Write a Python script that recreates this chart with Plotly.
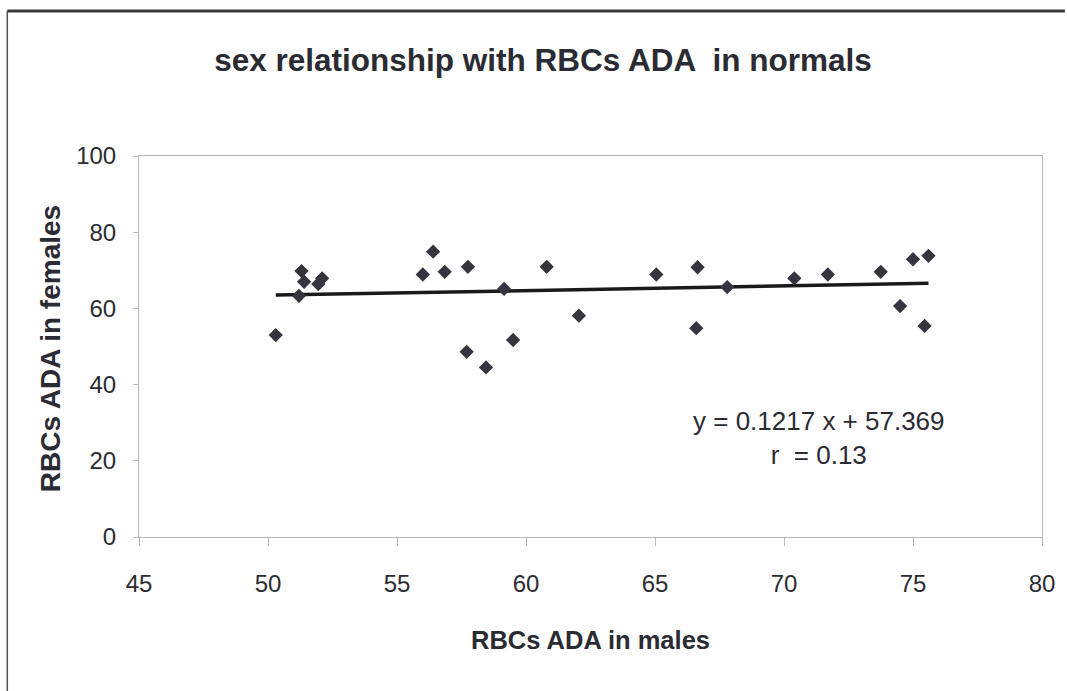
import plotly.graph_objects as go

# Data
males = [50.3, 51.3, 51.4, 51.2, 52.1, 51.95, 56.0, 56.4, 56.85, 57.75, 57.7, 58.45, 59.15,
         59.5, 60.8, 62.05, 65.05, 66.65, 66.6, 67.8, 70.4, 71.7, 73.75, 74.5, 75.0, 75.6, 75.45]
females = [53.0, 69.8, 67.0, 63.3, 67.9, 66.4, 68.9, 74.9, 69.6, 70.9, 48.6, 44.5, 65.1,
           51.7, 70.9, 58.1, 68.9, 70.8, 54.8, 65.6, 67.9, 68.9, 69.6, 60.6, 72.9, 73.8, 55.4]
slope = 0.1217
intercept = 57.369
x_ticks = [45, 50, 55, 60, 65, 70, 75, 80]
y_ticks = [0, 20, 40, 60, 80, 100]

trend_x = [min(males), max(males)]
trend_y = [slope * v + intercept for v in trend_x]

FONT = "Liberation Sans Narrow, Arial Narrow, Liberation Sans, Arial, sans-serif"
INK = "#2b2b33"
AXIS = "#b9b4c4"

fig = go.Figure()
fig.add_trace(go.Scatter(x=trend_x, y=trend_y, mode="lines",
                         line=dict(color="#1a1a1a", width=3.5), hoverinfo="skip"))
fig.add_trace(go.Scatter(x=males, y=females, mode="markers",
                         marker=dict(symbol="diamond", size=11, color="#35343f",
                                     line=dict(width=0))))

fig.update_layout(
    width=1067, height=691,
    margin=dict(l=139, r=23, t=156, b=154),
    paper_bgcolor="white", plot_bgcolor="white",
    showlegend=False,
    font=dict(family=FONT, color=INK, size=24),
    title=dict(text="<b>sex relationship with RBCs ADA  in normals</b>",
               x=(215 + 871) / 2 / 1067, xanchor="center", y=1 - 60 / 691, yanchor="middle",
               font=dict(family=FONT, size=31.5, color=INK)),
)
fig.update_xaxes(range=[45, 80], tickvals=x_ticks, ticktext=[str(v) for v in x_ticks],
                 showgrid=False, zeroline=False, showline=True, linecolor=AXIS, linewidth=1,
                 mirror=True, ticks="outside", ticklen=8, tickcolor=AXIS,
                 ticklabelstandoff=17, tickfont=dict(size=24, color=INK))
fig.update_yaxes(range=[0, 100], tickvals=y_ticks, ticktext=[str(v) for v in y_ticks],
                 showgrid=False, zeroline=False, showline=True, linecolor=AXIS, linewidth=1,
                 mirror=True, ticks="outside", ticklen=5, tickcolor=AXIS,
                 ticklabelstandoff=12, tickfont=dict(size=24, color=INK))

fig.add_annotation(text="<b>RBCs ADA in males</b>", xref="paper", yref="paper",
                   x=(591 - 139) / 905, y=-(640 - 537) / 381, xanchor="center", yanchor="middle",
                   showarrow=False, font=dict(family=FONT, size=25.5, color=INK))
fig.add_annotation(text="<b>RBCs ADA in females</b>", xref="paper", yref="paper",
                   x=(50 - 139) / 905, y=(537 - 349) / 381, xanchor="center", yanchor="middle",
                   textangle=-90, showarrow=False,
                   font=dict(family="Liberation Sans, Arial, sans-serif", size=28, color=INK))
fig.add_annotation(text="y = 0.1217 x + 57.369<br>r  = 0.13", xref="paper", yref="paper",
                   x=(821 - 139) / 905, y=(537 - 438) / 381, xanchor="center", yanchor="middle",
                   align="center", showarrow=False,
                   font=dict(family=FONT, size=26, color=INK))

# outer chart frame (top and left edges visible in the scan)
fig.add_shape(type="line", xref="paper", yref="paper",
              x0=(7 - 139) / 905, x1=(1067 - 139) / 905, y0=(537 - 11) / 381, y1=(537 - 11) / 381,
              line=dict(color="#3a3a3a", width=3))
fig.add_shape(type="line", xref="paper", yref="paper",
              x0=(7 - 139) / 905, x1=(7 - 139) / 905, y0=(537 - 11) / 381, y1=-(691 - 537) / 381,
              line=dict(color="#555555", width=1.5))

fig.write_html("out.html")
